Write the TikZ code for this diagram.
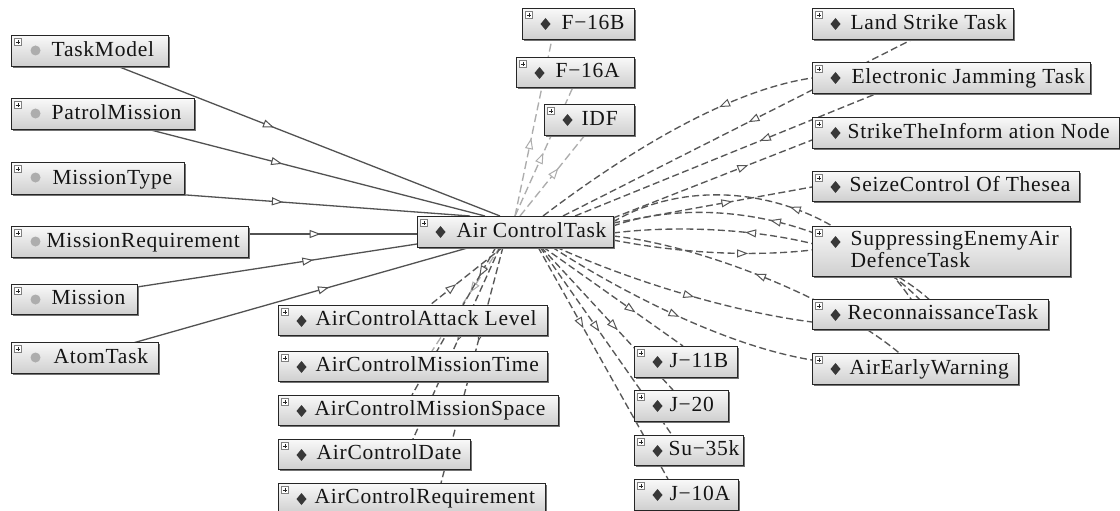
\documentclass[tikz,border=0pt]{standalone}
\usepackage{fontspec}
\setmainfont{Liberation Serif}[LetterSpace=3.5]
\usetikzlibrary{arrows.meta,decorations.markings,calc,shadows}
\pgfdeclarelayer{bg}
\pgfdeclarelayer{edges}
\pgfsetlayers{bg,edges,main}

\tikzset{
  tri/.tip={Triangle[length=11pt,width=8pt,fill=white,line width=1pt]},
  fwd/.style={postaction={decorate,solid,decoration={markings,mark=at position #1 with {\arrow{tri}}}}},
  bwd/.style={postaction={decorate,solid,decoration={markings,mark=at position #1 with {\arrowreversed{tri}}}}},
  isa/.style={draw=black!68, line width=1.3pt},
  rel/.style={draw=black!66, line width=1.35pt, dash pattern=on 7pt off 3.5pt},
  relx/.style={draw=black!32, line width=1.35pt, dash pattern=on 8pt off 4pt},
  ontobox/.style={rectangle, draw=black!85, line width=1.2pt,
    top color=gray!5, bottom color=gray!38, inner xsep=0pt, inner ysep=0pt,
    anchor=north west, text=black!92, font=\fontsize{21.5pt}{22pt}\selectfont,
    drop shadow={shadow xshift=1.2pt, shadow yshift=-1.2pt, fill=black!55, opacity=1}},
}

% #1 name, #2 x, #3 y, #4 width, #5 height, #6 text indent, #7 label
\newcommand\onto[7]{%
  \node[ontobox, minimum height=#5pt] (#1) at (#2,#3)
    {\makebox[#4pt][l]{\hspace*{#6pt}\rule[-7pt]{0pt}{\dimexpr#5pt-7pt\relax}#7}};}
\newcommand\markcls[1]{\fill[black!32] ($(#1.north west)+(24.5,15.5)$) circle[radius=5pt];}
\newcommand\markind[1]{\fill[black!78] ($(#1.north west)+(23.5,16)$)
  +(0,-6) -- +(5,0) -- +(0,6) -- +(-5,0) -- cycle;}
\newcommand\markexp[1]{%
  \draw[black!50,line width=.5pt,fill=white] ($(#1.north west)+(3.5,3.5)$) rectangle +(7,7);
  \draw[black!85,line width=.7pt] ($(#1.north west)+(4.9,7)$) -- +(4.2,0)
    ($(#1.north west)+(7,4.9)$) -- +(0,4.2);}

\begin{document}
\begin{tikzpicture}[x=1pt,y=-1pt]
\useasboundingbox (0,0) rectangle (1120,511);

% classes
\onto{TaskModel}{11}{35}{157}{31}{40}{TaskModel}
\onto{PatrolMission}{11}{98}{183}{31}{40}{PatrolMission}
\onto{MissionType}{11}{162}{173}{32}{41}{MissionType}
\onto{MissionReq}{11}{226}{237}{31}{35}{MissionRequirement}
\onto{Mission}{11}{284}{126}{30}{40}{Mission}
\onto{AtomTask}{11}{342}{147}{31}{42}{AtomTask}

% central individual
\onto{ctr}{417}{216}{196}{31}{39}{Air ControlTask}

% aircraft above
\onto{FsixB}{522}{8}{112}{31}{39}{F−16B}
\onto{FsixA}{516}{57}{118}{30}{39}{F−16A}
\onto{IDF}{544}{104}{90}{31}{37}{IDF}

% tasks on the right
\onto{LST}{812}{8}{201}{31}{38}{Land Strike Task}
\onto{EJT}{812}{62}{278}{31}{39}{Electronic Jamming Task}
\onto{STIN}{812}{117}{307}{31}{35}{StrikeTheInform ation Node}
\onto{SCOT}{812}{171}{267}{30}{37}{SeizeControl Of Thesea}
\node[ontobox, minimum height=50pt] (SEAD) at (812,226)
  {\makebox[258pt][l]{\hspace*{38pt}\rule[-6pt]{0pt}{44pt}\parbox[b]{215pt}{SuppressingEnemyAir\\DefenceTask}}};
\onto{Recon}{812}{299}{236}{30}{35}{ReconnaissanceTask}
\onto{AEW}{812}{353}{206}{31}{37}{AirEarlyWarning}

% aircraft below
\onto{JeB}{634}{346}{103}{31}{35}{J−11B}
\onto{Jtw}{634}{390}{94}{31}{35}{J−20}
\onto{Su}{634}{435}{109}{30}{34}{Su−35k}
\onto{JtA}{634}{479}{104}{31}{35}{J−10A}

% attributes below
\onto{ACAL}{278}{305}{269}{30}{37}{AirControlAttack Level}
\onto{ACMT}{278}{351}{269}{30}{37}{AirControlMissionTime}
\onto{ACMS}{278}{395}{280}{30}{36}{AirControlMissionSpace}
\onto{ACD}{278}{439}{192}{30}{38}{AirControlDate}
\onto{ACR}{278}{483}{267}{30}{36}{AirControlRequirement}

\begin{pgfonlayer}{bg}
  \fill[white] (0,0) rectangle (1120,511);
\end{pgfonlayer}

\begin{pgfonlayer}{edges}
% superclasses
\draw[isa,fwd=.41] ($(TaskModel.north west)+(106,31)$) -- ($(ctr.north west)+(83,0)$);
\draw[isa,fwd=.40] ($(PatrolMission.north west)+(136,31)$) -- ($(ctr.north west)+(68,0)$);
\draw[isa,fwd=.37] ($(MissionType.north west)+(162,32)$) -- ($(ctr.north west)+(53,0)$);
\draw[isa,fwd=.43] ($(MissionReq.north west)+(237,8)$) -- ($(ctr.north west)+(0,18)$);
\draw[isa,fwd=.63] ($(Mission.north west)+(126,3)$) -- ($(ctr.north west)+(0,28)$);
\draw[isa,fwd=.58] ($(AtomTask.north west)+(122,1)$) -- ($(ctr.north west)+(54,31)$);

% aircraft above
\draw[relx,fwd=.44] ($(ctr.north west)+(98,0)$) -- ($(FsixB.north west)+(30,31)$);
\draw[relx,fwd=.49] ($(ctr.north west)+(98,0)$) -- ($(FsixA.north west)+(57,30)$);
\draw[relx,fwd=.59] ($(ctr.north west)+(103,0)$) -- ($(IDF.north west)+(41,31)$);

% attributes below
\draw[rel,bwd=.64] ($(ctr.north west)+(86,31)$) -- ($(ACAL.north west)+(152,0)$);
\draw[relx,fwd=.44] ($(ctr.north west)+(83,31)$) -- ($(ACMT.north west)+(154,0)$);
\draw[rel,fwd=.2] ($(ctr.north west)+(79,31)$) -- ($(ACMS.north west)+(134,0)$);
\draw[rel,fwd=.49] ($(ctr.north west)+(83,31)$) -- ($(ACD.north west)+(135,0)$);
\draw[rel,fwd=.40] ($(ctr.north west)+(86,31)$) -- ($(ACR.north west)+(163,0)$);

% aircraft below
\draw[rel,fwd=.66] ($(ctr.north west)+(126,31)$) -- ($(JeB.north west)+(49,0)$);
\draw[rel,fwd=.58] ($(ctr.north west)+(124,31)$) -- ($(Jtw.north west)+(39,0)$);
\draw[rel,fwd=.45] ($(ctr.north west)+(123,31)$) -- ($(Su.north west)+(38,0)$);
\draw[rel,fwd=.35] ($(ctr.north west)+(121,31)$) -- ($(JtA.north west)+(34,0)$);

% tasks on the right
\draw[rel,bwd=.68] ($(ctr.north west)+(126,0)$) .. controls +(87,-66) and +(-82,12) .. ($(EJT.north west)+(0,16)$);
\draw[rel,bwd=.53] ($(ctr.north west)+(146,0)$) -- ($(LST.north west)+(101,31)$);
\draw[rel,bwd=.61] ($(ctr.north west)+(158,0)$) -- ($(EJT.north west)+(66,31)$);
\draw[rel,fwd=.68] ($(ctr.north west)+(196,2)$) -- ($(STIN.north west)+(0,23)$);
\draw[rel,fwd=.60] ($(ctr.north west)+(196,7)$) -- ($(SCOT.north west)+(0,16)$);
\draw[rel,bwd=.53] ($(ctr.north west)+(196,6)$) .. controls +(87,-52) and +(-75,-115) .. ($(Recon.north west)+(103,6)$);
\draw[rel,bwd=.47] ($(ctr.north west)+(196,10)$) .. controls +(87,-31) and +(-85,-90) .. ($(Recon.north west)+(113,6)$);
\draw[rel,bwd=.39] ($(ctr.north west)+(196,17)$) .. controls +(87,-11) and +(-75,-75) .. ($(Recon.north west)+(123,6)$);
\draw[rel,fwd=.68] ($(ctr.north west)+(196,24)$) .. controls +(77,15) and +(-52,6) .. ($(SEAD.north west)+(0,24)$);
\draw[rel,bwd=.46] ($(ctr.north west)+(196,20)$) .. controls +(87,9) and +(-65,-58) .. ($(AEW.north west)+(93,5)$);
\draw[rel,fwd=.55] ($(ctr.north west)+(139,31)$) .. controls +(64,29) and +(-92,-12) .. ($(Recon.north west)+(0,23)$);
\draw[rel,fwd=.51] ($(ctr.north west)+(135,31)$) .. controls +(58,38) and +(-92,-15) .. ($(AEW.north west)+(0,7)$);
\end{pgfonlayer}

% node icons
\foreach \n in {TaskModel,PatrolMission,MissionType,MissionReq,Mission,AtomTask}{\markcls{\n}}
\foreach \n in {ctr,FsixB,FsixA,IDF,LST,EJT,STIN,SCOT,SEAD,Recon,AEW,JeB,Jtw,Su,JtA,ACAL,ACMT,ACMS,ACD,ACR}{\markind{\n}}
\foreach \n in {TaskModel,PatrolMission,MissionType,MissionReq,Mission,AtomTask,ctr,FsixB,FsixA,IDF,LST,EJT,STIN,SCOT,SEAD,Recon,AEW,JeB,Jtw,Su,JtA,ACAL,ACMT,ACMS,ACD,ACR}{\markexp{\n}}
\end{tikzpicture}
\end{document}
